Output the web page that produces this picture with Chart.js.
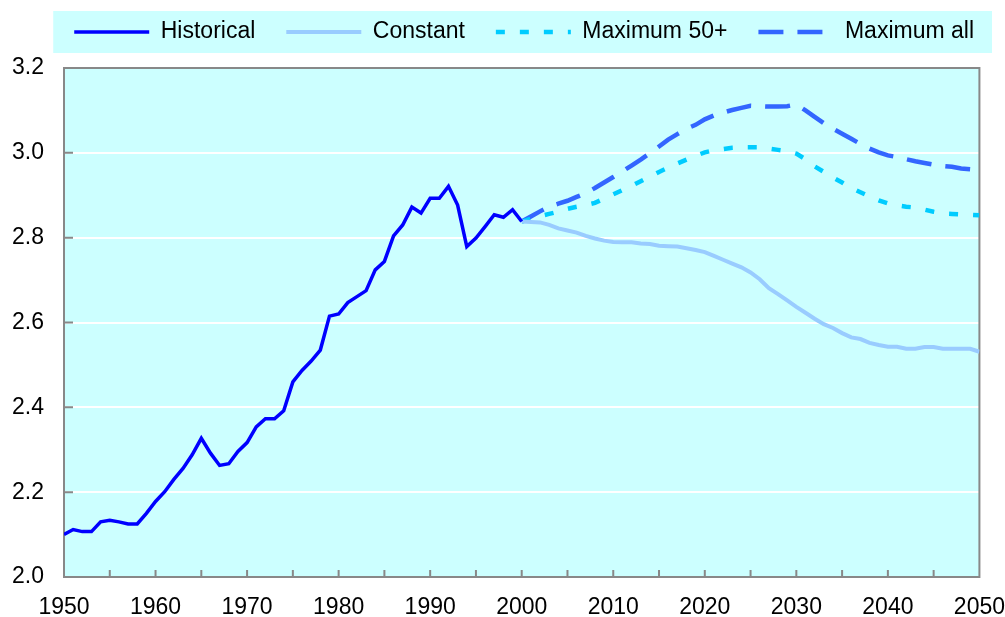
<!doctype html>
<html lang="en">
  <head>
    <meta charset="UTF-8" />
    <title>Historical and projected values, 1950-2050</title>
    <script src="https://cdn.jsdelivr.net/npm/chart.js"></script>
    <style>
      html, body { margin: 0; padding: 0; background: white; }
    </style>
  </head>
  <body>
    <canvas id="chart" width="1005" height="617"></canvas>

    <script>
      // values
      const seriesNames = ["Historical", "Constant", "Maximum 50+", "Maximum all"];

      const histYears = [
        1950, 1951, 1952, 1953, 1954, 1955, 1956, 1957, 1958, 1959,
        1960, 1961, 1962, 1963, 1964, 1965, 1966, 1967, 1968, 1969,
        1970, 1971, 1972, 1973, 1974, 1975, 1976, 1977, 1978, 1979,
        1980, 1981, 1982, 1983, 1984, 1985, 1986, 1987, 1988, 1989,
        1990, 1991, 1992, 1993, 1994, 1995, 1996, 1997, 1998, 1999,
        2000,
      ];
      const historical = [
        2.100, 2.112, 2.107, 2.107, 2.130, 2.134, 2.130, 2.125, 2.125, 2.150,
        2.178, 2.201, 2.230, 2.256, 2.288, 2.327, 2.292, 2.263, 2.267, 2.296,
        2.317, 2.354, 2.373, 2.373, 2.392, 2.460, 2.487, 2.509, 2.535, 2.615,
        2.620, 2.647, 2.661, 2.675, 2.724, 2.744, 2.804, 2.830, 2.872, 2.858,
        2.893, 2.893, 2.921, 2.877, 2.779, 2.799, 2.826, 2.854, 2.848, 2.866,
        2.838,
      ];

      const projYears = [
        2000, 2001, 2002, 2003, 2004, 2005, 2006, 2007, 2008, 2009,
        2010, 2011, 2012, 2013, 2014, 2015, 2016, 2017, 2018, 2019,
        2020, 2021, 2022, 2023, 2024, 2025, 2026, 2027, 2028, 2029,
        2030, 2031, 2032, 2033, 2034, 2035, 2036, 2037, 2038, 2039,
        2040, 2041, 2042, 2043, 2044, 2045, 2046, 2047, 2048, 2049,
        2050,
      ];
      const constant = [
        2.838, 2.837, 2.836, 2.830, 2.822, 2.817, 2.812, 2.804, 2.798, 2.793,
        2.790, 2.789, 2.789, 2.786, 2.785, 2.781, 2.780, 2.779, 2.775, 2.771,
        2.766, 2.757, 2.748, 2.739, 2.730, 2.718, 2.702, 2.681, 2.667, 2.652,
        2.637, 2.623, 2.609, 2.596, 2.587, 2.575, 2.565, 2.561, 2.552, 2.547,
        2.543, 2.543, 2.538, 2.538, 2.542, 2.542, 2.538, 2.538, 2.538, 2.538,
        2.531,
      ];
      const max50 = [
        2.838, 2.845, 2.851, 2.856, 2.861, 2.868, 2.873, 2.877, 2.882, 2.892,
        2.902, 2.912, 2.922, 2.933, 2.944, 2.955, 2.965, 2.975, 2.984, 2.993,
        3.001, 3.006, 3.009, 3.012, 3.013, 3.013, 3.013, 3.010, 3.007, 3.004,
        2.998, 2.985, 2.968, 2.955, 2.942, 2.930, 2.917, 2.907, 2.897, 2.888,
        2.881, 2.876, 2.873, 2.871, 2.866, 2.861, 2.857, 2.856, 2.855, 2.854,
        2.853,
      ];
      const maxAll = [
        2.838, 2.850, 2.862, 2.873, 2.880, 2.887, 2.896, 2.905, 2.917, 2.930,
        2.943, 2.956, 2.970, 2.984, 2.999, 3.015, 3.031, 3.044, 3.057, 3.066,
        3.079, 3.088, 3.095, 3.101, 3.106, 3.111, 3.110, 3.109, 3.109, 3.110,
        3.114, 3.100, 3.085, 3.070, 3.057, 3.045, 3.033, 3.021, 3.010, 3.001,
        2.994, 2.990, 2.985, 2.980, 2.976, 2.972, 2.969, 2.967, 2.963, 2.961,
        2.957,
      ];

      const pts = (xs, ys) => xs.map((x, i) => ({ x: x, y: ys[i] }));

      const bgColor = "#ccffff";
      const frameColor = "#888888";

      // cyan plot area + legend box, gray frame and inward tick marks
      const plotFrame = {
        id: "plotFrame",
        beforeDraw(chart) {
          const { ctx, chartArea: a, legend } = chart;
          ctx.save();
          ctx.fillStyle = bgColor;
          ctx.fillRect(a.left, a.top, a.right - a.left, a.bottom - a.top);
          const boxes = legend.legendHitBoxes || [];
          if (boxes.length) {
            const first = boxes[0];
            const last = boxes[boxes.length - 1];
            const cy = first.top + first.height / 2;
            const x0 = first.left - 21;
            ctx.fillRect(x0, cy - 21, last.left + last.width + 18 - x0, 42);
          }
          ctx.restore();
        },
        beforeDatasetsDraw(chart) {
          const { ctx, chartArea: a } = chart;
          const xs = chart.scales.x;
          const ys = chart.scales.y;
          ctx.save();
          ctx.strokeStyle = frameColor;
          ctx.lineWidth = 2;
          ctx.beginPath();
          xs.ticks.forEach((t) => {
            if (t.value > xs.min && t.value < xs.max) {
              const px = xs.getPixelForValue(t.value);
              ctx.moveTo(px, a.bottom);
              ctx.lineTo(px, a.bottom - 7);
            }
          });
          ys.ticks.forEach((t) => {
            const py = ys.getPixelForValue(t.value);
            ctx.moveTo(a.left, py);
            ctx.lineTo(a.left + 9, py);
          });
          ctx.stroke();
          ctx.strokeRect(a.left, a.top, a.right - a.left, a.bottom - a.top);
          ctx.restore();
        },
      };

      Chart.defaults.font.family = '"Liberation Sans", Arial, sans-serif';
      Chart.defaults.font.size = 23;
      Chart.defaults.color = "#000000";

      const ctx = document.getElementById("chart").getContext("2d");
      const myChart = new Chart(ctx, {
        type: "line",
        data: {
          datasets: [
            {
              label: seriesNames[0],
              data: pts(histYears, historical),
              borderColor: "#0000ff",
              backgroundColor: "#0000ff",
              borderWidth: 3.5,
            },
            {
              label: seriesNames[1],
              data: pts(projYears, constant),
              borderColor: "#99ccff",
              backgroundColor: "#99ccff",
              borderWidth: 4,
            },
            {
              label: seriesNames[2],
              data: pts(projYears, max50),
              borderColor: "#00ccff",
              backgroundColor: "#00ccff",
              borderWidth: 4.5,
              borderDash: [9, 15],
            },
            {
              label: seriesNames[3],
              data: pts(projYears, maxAll),
              borderColor: "#3366ff",
              backgroundColor: "#3366ff",
              borderWidth: 4.5,
              borderDash: [25, 14],
            },
          ],
        },
        options: {
          responsive: false,
          animation: false,
          devicePixelRatio: 1,
          elements: {
            point: { radius: 0 },
            line: { tension: 0, fill: false },
          },
          layout: {
            padding: { top: -10.5, left: 0, right: 0, bottom: 0 },
          },
          plugins: {
            tooltip: { enabled: false },
            legend: {
              position: "top",
              align: "end",
              labels: {
                usePointStyle: true,
                pointStyle: "line",
                pointStyleWidth: 75,
                padding: 31,
                font: { size: 23 },
                // point style legend loses the dash, so copy it from the dataset
                generateLabels: (chart) => {
                  const items = Chart.defaults.plugins.legend.labels.generateLabels(chart);
                  items.forEach((it) => {
                    const ds = chart.data.datasets[it.datasetIndex];
                    it.lineDash = ds.borderDash || [];
                    it.lineWidth = ds.borderWidth;
                    it.strokeStyle = ds.borderColor;
                  });
                  return items;
                },
              },
            },
            // empty spacer between legend and plot
            subtitle: {
              display: true,
              text: "",
              weight: 500,
              font: { size: 10 },
              padding: { top: 2.5, bottom: 0 },
            },
          },
          scales: {
            x: {
              type: "linear",
              min: 1950,
              max: 2050,
              grid: { display: false, drawTicks: true, tickLength: 17 },
              border: { display: false },
              ticks: {
                stepSize: 5,
                autoSkip: false,
                maxRotation: 0,
                padding: 0,
                callback: (v) => (v % 10 === 0 ? String(v) : ""),
              },
              afterFit: (scale) => {
                scale.height = 40;
              },
            },
            y: {
              min: 2.0,
              max: 3.2,
              grid: { color: "#ffffff", lineWidth: 2, drawTicks: false },
              border: { display: false },
              ticks: {
                stepSize: 0.2,
                padding: 20,
                callback: (v) => v.toFixed(1),
              },
              afterFit: (scale) => {
                scale.width = 64;
              },
            },
          },
        },
        plugins: [plotFrame],
      });
    </script>
  </body>
</html>
